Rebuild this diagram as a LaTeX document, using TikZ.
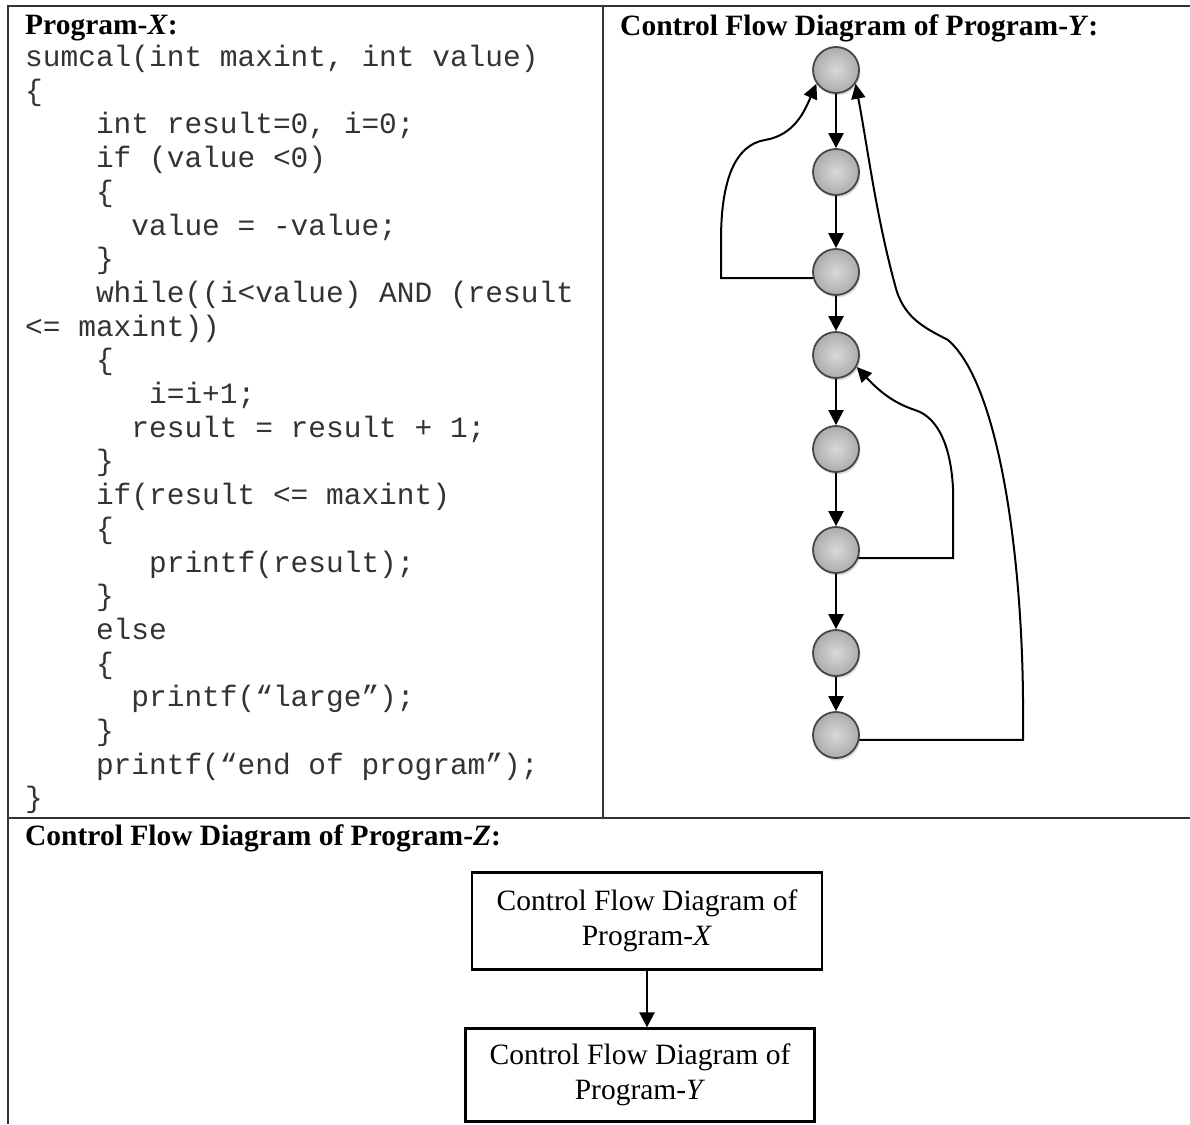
\documentclass[tikz,border=0pt]{standalone}
\usepackage{fontspec}
\setmainfont{Liberation Serif}
\setmonofont{Liberation Mono}
\usetikzlibrary{positioning,arrows.meta,shadows}

\tikzset{
  ball/.style={circle, minimum size=46pt, inner sep=0pt, draw=gray!55!black, line width=1.8pt,
    inner color=gray!30, outer color=gray!65,
    drop shadow={opacity=0.25, shadow xshift=1.5pt, shadow yshift=-2.5pt}},
  flow/.style={-{Triangle[length=15pt,width=15pt]}, line width=2.4pt},
  back/.style={-{Triangle[length=15pt,width=14pt]}, line width=2pt},
  zbox/.style={draw, line width=2.2pt, minimum width=350pt, minimum height=97pt, align=center,
    font=\fontsize{29.5}{35}\selectfont},
  paneltitle/.style={anchor=base west, inner sep=0pt, font=\bfseries\fontsize{29.5}{35}\selectfont},
  code/.style={anchor=base west, inner sep=0pt, text=black!80, font=\ttfamily\fontsize{29.5}{33}\selectfont},
  frame/.style={line width=2.8pt, black!80}
}

\begin{document}
\begin{tikzpicture}[x=1pt,y=-1pt]
\useasboundingbox (0,0) rectangle (1190,1124);

% table lines
\draw[frame] (8,1124) -- (8,6) -- (1190,6);
\draw[frame] (603,6) -- (603,818);
\draw[frame] (8,818) -- (1190,818);

% Program-X
\node[paneltitle] (px) at (25,35) {Program-\textit{X}:};
\foreach \lvl/\txt [count=\n] in {0/{sumcal(int maxint, int value)}, 0/{\{}, 4/{int result=0, i=0;},
    4/{if (value <0)}, 4/{\{}, 6/{value = -value;}, 4/{\}}, 4/{while((i<value) AND (result},
    0/{<= maxint))}, 4/{\{}, 7/{i=i+1;}, 6/{result = result + 1;}, 4/{\}},
    4/{if(result <= maxint)}, 4/{\{}, 7/{printf(result);}, 4/{\}}, 4/{else}, 4/{\{},
    6/{printf(“large”);}, 4/{\}}, 4/{printf(“end of program”);}, 0/{\}}}
  \node[code] (c\n) at ({25+\lvl*17.7},{66.5+(\n-1)*33.7}) {\txt};

% Program-Y
\node[paneltitle] (py) at (620,36) {Control Flow Diagram of Program-\textit{Y}:};
\foreach \yy [count=\i] in {70,172,272,355,449,550,653,735}
  \node[ball] (y\i) at (836,\yy) {};
\foreach \a/\b in {1/2,2/3,3/4,4/5,5/6,6/7,7/8}
  \draw[flow] (y\a) -- (y\b);

% loops back
\coordinate (l1) at (721,0);
\coordinate (r1) at (953,0);
\coordinate (r2) at (1023,0);
\draw[back] (y3.195) -- (y3.195 -| l1) -- ++(0,-38)
  .. controls (721,180) and (735,145) .. (765,140)
  .. controls (795,135) and (805,110) .. (y1.215);
\draw[back] (y8.-12) -- (y8.-12 -| r2) -- ++(0,-40)
  .. controls (1022,560) and (1000,385) .. (948,340)
  .. controls (925,328) and (903,318) .. (895,285)
  .. controls (876,215) and (868,150) .. (y1.-35);
\draw[back] (y6.-20) -- (y6.-20 -| r1) -- ++(0,-70)
  .. controls (951,450) and (940,418) .. (915,410)
  .. controls (893,403) and (878,390) .. (y4.-30);

% Program-Z
\node[paneltitle] (pz) at (25,845) {Control Flow Diagram of Program-\textit{Z}:};
\node[zbox] (zx) at (647,921) {Control Flow Diagram of\\Program-\textit{X}};
\node[zbox, minimum width=349pt, minimum height=93pt] (zy) at (640,1075) {Control Flow Diagram of\\Program-\textit{Y}};
\draw[flow] (zx.south) -- (zx.south |- zy.north);
\end{tikzpicture}
\end{document}
